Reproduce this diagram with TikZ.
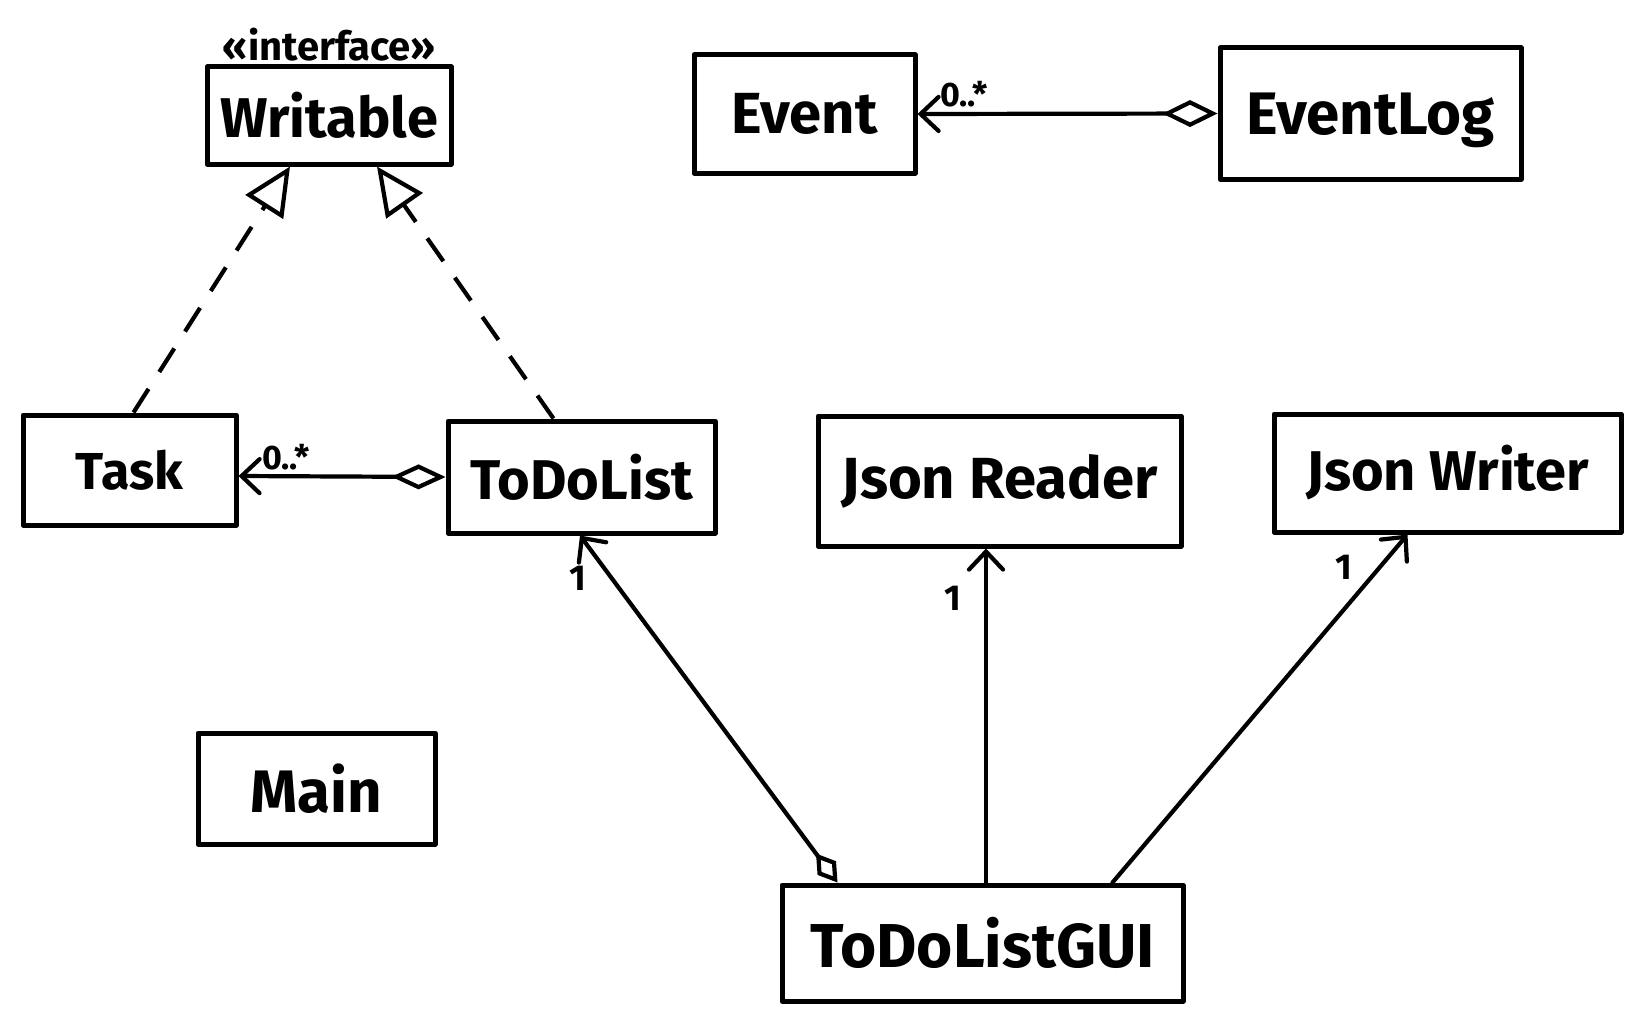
\documentclass[tikz,border=0pt]{standalone}
\usepackage{fontspec}
\setmainfont{Fira Sans}
\usetikzlibrary{arrows.meta}
\begin{document}
\begin{tikzpicture}[x=1pt,y=-1pt,
  cls/.style={draw, line width=5pt, inner sep=0pt, line join=round,
    font=\bfseries\fontsize{56}{60}\selectfont},
  stereo/.style={inner sep=0pt, font=\bfseries\fontsize{40}{44}\selectfont},
  mult/.style={inner sep=0pt, font=\bfseries\fontsize{34}{36}\selectfont},
  one/.style={inner sep=0pt, font=\bfseries\fontsize{36}{38}\selectfont},
  conn/.style={line width=4.2pt, line cap=round, line join=round},
  dashline/.style={conn, line cap=butt, dash pattern=on 28pt off 20pt},
  real/.style={-{Triangle[open,length=48pt,width=44pt,line join=miter]}},
  barb/.tip={Straight Barb[length=18pt,width=34pt,line cap=round]},
]
\useasboundingbox (0,0) rectangle (1640,1022);

% classes
\node[cls, minimum width=244pt, minimum height=97pt] (writable) at (329,115.5) {Writable};
\node[stereo] (stereo) at (329,45) {«interface»};
\node[cls, minimum width=221pt, minimum height=118pt, font=\bfseries\fontsize{58}{62}\selectfont] (event) at (804.5,114) {Event};
\node[cls, minimum width=301pt, minimum height=131pt, text depth=0pt, font=\bfseries\fontsize{60}{64}\selectfont] (eventlog) at (1370.5,113.5) {EventLog};
\node[cls, minimum width=213pt, minimum height=110pt, font=\bfseries\fontsize{52}{56}\selectfont] (task) at (129.5,470) {Task};
\node[cls, minimum width=267pt, minimum height=112pt] (todolist) at (581.5,477) {ToDoList};
\node[cls, minimum width=363pt, minimum height=130pt, font=\bfseries\fontsize{58}{62}\selectfont] (jsonreader) at (999.5,481) {Json Reader};
\node[cls, minimum width=347pt, minimum height=118pt] (jsonwriter) at (1447.5,473) {Json Writer};
\node[cls, minimum width=237pt, minimum height=111pt, font=\bfseries\fontsize{60}{64}\selectfont] (main) at (316.5,788.5) {Main};
\node[cls, minimum width=401pt, minimum height=116pt, font=\bfseries\fontsize{62}{66}\selectfont] (gui) at (982.5,943) {ToDoListGUI};

% realizations
\draw[dashline, real] ([xshift=4pt]task.north) -- ([xshift=-39pt]writable.south);
\draw[dashline, real] ([xshift=-28pt]todolist.north) -- ([xshift=48pt]writable.south);

% aggregations / associations
\draw[conn, {Diamond[open,length=55pt,width=27pt,line join=miter]}-barb] (eventlog.west) -- (event.east);
\draw[conn, {Diamond[open,length=54pt,width=25pt,line join=miter]}-barb] (todolist.west) -- ([yshift=-6pt]task.east);
\draw[conn, {Diamond[open,length=36pt,width=23pt,line join=miter]}-barb] ([xshift=-145pt]gui.north) -- ([xshift=-1.5pt]todolist.south);
\draw[conn, -barb] ([xshift=3.5pt]gui.north) -- ([xshift=-13.5pt]jsonreader.south);
\draw[conn, -barb] ([xshift=130pt]gui.north) -- ([xshift=-40pt]jsonwriter.south);

% multiplicities
\node[mult] (m1) at (964,94) {0..*};
\node[mult] (m2) at (286,457) {0..*};
\node[one] (o1) at (578,578) {1};
\node[one] (o2) at (953,598) {1};
\node[one] (o3) at (1344,567) {1};
\end{tikzpicture}
\end{document}
